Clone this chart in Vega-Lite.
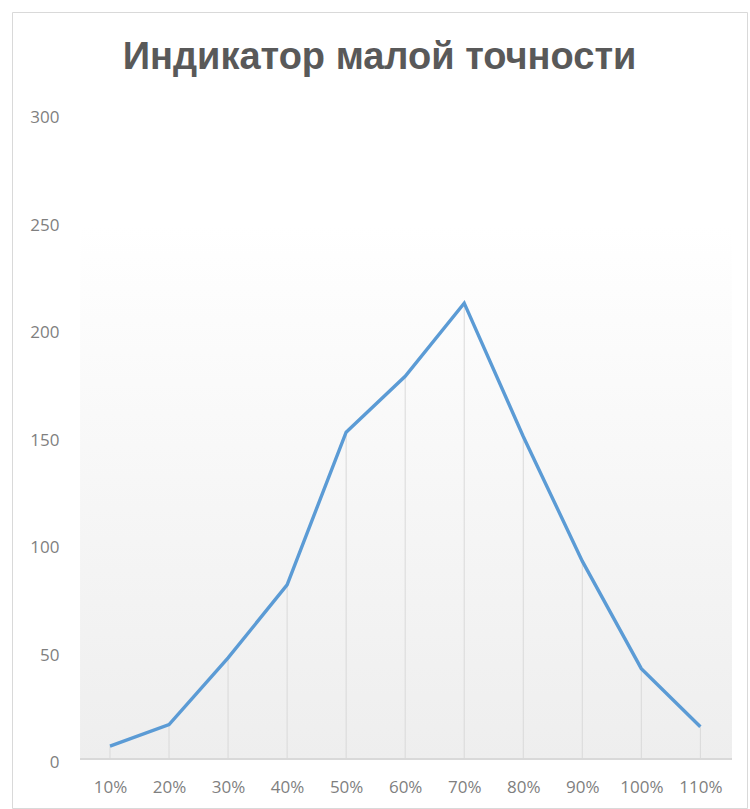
{
  "$schema": "https://vega.github.io/schema/vega-lite/v6.json",
  "autosize": {"type": "none"},
  "width": 735,
  "height": 796,
  "padding": {"left": 12, "top": 12, "right": 3, "bottom": 1},
  "background": "#ffffff",
  "config": {
    "view": {"stroke": "#d9d9d9", "strokeWidth": 1},
    "axis": {
      "labelFont": "Open Sans",
      "labelFontSize": 17,
      "labelColor": "#7f7f7f",
      "grid": false,
      "ticks": false,
      "domain": false
    }
  },
  "title": {
    "text": "Индикатор малой точности",
    "font": "Liberation Sans",
    "fontSize": 38,
    "fontWeight": "bold",
    "color": "#595959",
    "anchor": "middle",
    "baseline": "alphabetic",
    "offset": -95
  },
  "data": {
    "values": [
      {"share": 10, "count": 6},
      {"share": 20, "count": 16},
      {"share": 30, "count": 47},
      {"share": 40, "count": 81},
      {"share": 50, "count": 152},
      {"share": 60, "count": 178},
      {"share": 70, "count": 212},
      {"share": 80, "count": 150},
      {"share": 90, "count": 92},
      {"share": 100, "count": 42},
      {"share": 110, "count": 15}
    ]
  },
  "layer": [
    {
      "mark": {
        "type": "rect",
        "fill": {
          "gradient": "linear",
          "x1": 0, "y1": 0, "x2": 0, "y2": 1,
          "stops": [
            {"offset": 0, "color": "#ffffff"},
            {"offset": 1, "color": "#eeeeee"}
          ]
        }
      },
      "encoding": {
        "x": {"datum": 5, "type": "quantitative"},
        "x2": {"datum": 115.3},
        "y": {"datum": 248, "type": "quantitative"},
        "y2": {"datum": 0}
      }
    },
    {
      "mark": {"type": "rule", "color": "#d9d9d9", "strokeWidth": 1.5},
      "encoding": {
        "x": {"datum": 5, "type": "quantitative"},
        "x2": {"datum": 115.3},
        "y": {"datum": 0, "type": "quantitative"}
      }
    },
    {
      "mark": {"type": "rule", "color": "#d9d9d9", "strokeWidth": 1},
      "encoding": {
        "x": {"field": "share", "type": "quantitative"},
        "y": {"field": "count", "type": "quantitative"},
        "y2": {"datum": 0}
      }
    },
    {
      "mark": {"type": "line", "color": "#5b9bd5", "strokeWidth": 3.4, "strokeJoin": "miter"},
      "encoding": {
        "x": {
          "field": "share",
          "type": "quantitative",
          "scale": {"domain": [-6.6, 117.9], "nice": false, "zero": false},
          "axis": {
            "title": null,
            "values": [10, 20, 30, 40, 50, 60, 70, 80, 90, 100, 110],
            "labelExpr": "datum.value + '%'",
            "offset": -49,
            "labelPadding": 20
          }
        },
        "y": {
          "field": "count",
          "type": "quantitative",
          "scale": {"domain": [-22.8, 347.4], "nice": false, "zero": false},
          "axis": {
            "title": null,
            "values": [0, 50, 100, 150, 200, 250, 300],
            "offset": -47,
            "labelPadding": 0,
            "labelOffset": 4
          }
        }
      }
    }
  ]
}
